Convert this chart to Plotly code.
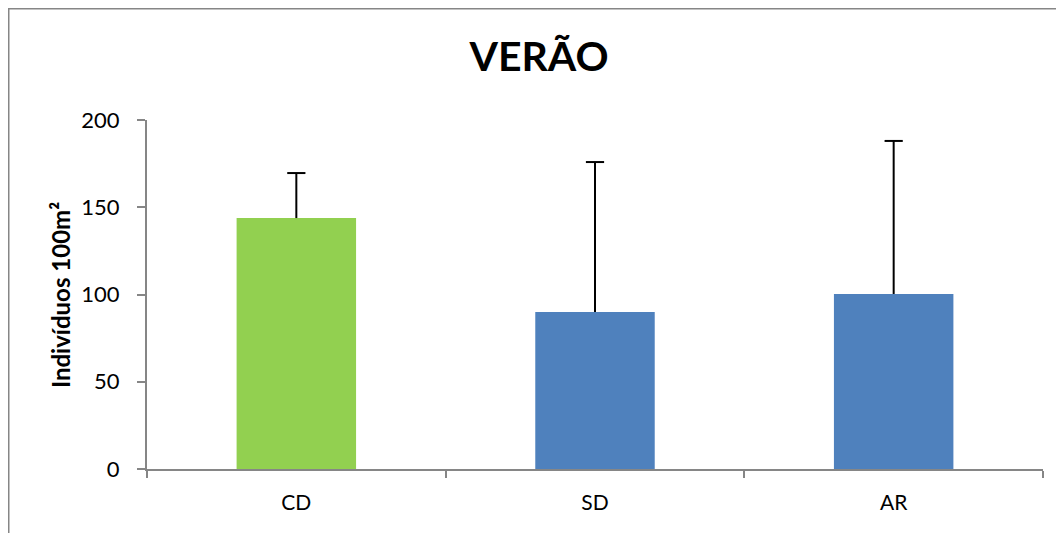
import plotly.graph_objects as go

categories = ["CD", "SD", "AR"]
values = [143.8, 90.0, 100.3]
errors_plus = [25.8, 85.9, 87.7]
bar_colors = ["#92D050", "#4F81BD", "#4F81BD"]
y_ticks = [0, 50, 100, 150, 200]

# The page has an 8px body margin, so the figure is drawn 8px in from the top-left.
OFF = 8
W, H = 1064 - OFF, 533 - OFF
L, R, T, B = 147 - OFF, 21, 120 - OFF, 64
pw, ph = W - L - R, H - T - B


def fx(x):  # figure pixel -> paper x
    return (x - L) / pw


def fy(y):  # figure pixel -> paper y
    return (H - B - y) / ph


tops = [v + e for v, e in zip(values, errors_plus)]

fig = go.Figure()
fig.add_trace(
    go.Bar(
        x=categories,
        y=values,
        marker=dict(color=bar_colors, line=dict(width=0)),
        error_y=dict(
            type="data",
            symmetric=False,
            array=errors_plus,
            arrayminus=[0] * len(values),
            color="black",
            thickness=2,
            width=0,
        ),
        width=0.4,
    )
)
# error bar caps (top only)
fig.add_trace(
    go.Scatter(
        x=categories,
        y=tops,
        mode="markers",
        marker=dict(symbol="line-ew", size=13, line=dict(color="black", width=2)),
        hoverinfo="skip",
    )
)

font = "Lato, 'Open Sans', sans-serif"

fig.update_layout(
    width=W,
    height=H,
    margin=dict(l=L, r=R, t=T, b=B),
    paper_bgcolor="white",
    plot_bgcolor="white",
    showlegend=False,
    font=dict(family=font, color="black"),
    xaxis=dict(
        showline=True,
        linecolor="#868686",
        linewidth=2,
        ticks="outside",
        tickson="boundaries",
        ticklen=7,
        tickcolor="#868686",
        tickwidth=1.5,
        tickfont=dict(size=21, family=font),
        showgrid=False,
        zeroline=False,
        ticklabelstandoff=14,
    ),
    yaxis=dict(
        range=[0, 200],
        tickvals=y_ticks,
        showline=True,
        linecolor="#868686",
        linewidth=2,
        ticks="outside",
        ticklen=8,
        tickcolor="#868686",
        tickwidth=1.5,
        tickfont=dict(size=22, family=font),
        showgrid=False,
        zeroline=False,
        ticklabelstandoff=13,
    ),
    title=dict(
        text="<b>VERÃO</b>",
        font=dict(size=41, family=font, color="black"),
        x=(539 - OFF) / W,
        xanchor="center",
        y=1 - (57 - OFF) / H,
        yanchor="middle",
        xref="container",
        yref="container",
    ),
    annotations=[
        dict(
            text="<b>Indivíduos 100m²</b>",
            textangle=-90,
            xref="paper",
            yref="paper",
            x=fx(60 - OFF),
            y=fy(295 - OFF),
            xanchor="center",
            yanchor="middle",
            showarrow=False,
            font=dict(size=24, family=font, color="black"),
        )
    ],
    shapes=[
        dict(
            type="rect",
            xref="paper",
            yref="paper",
            x0=fx(0.75),
            x1=fx(W + 20),
            y0=fy(H + 20),
            y1=fy(0.75),
            line=dict(color="#868686", width=1.5),
            fillcolor="rgba(0,0,0,0)",
            layer="above",
        )
    ],
)

fig.write_html("out.html")
